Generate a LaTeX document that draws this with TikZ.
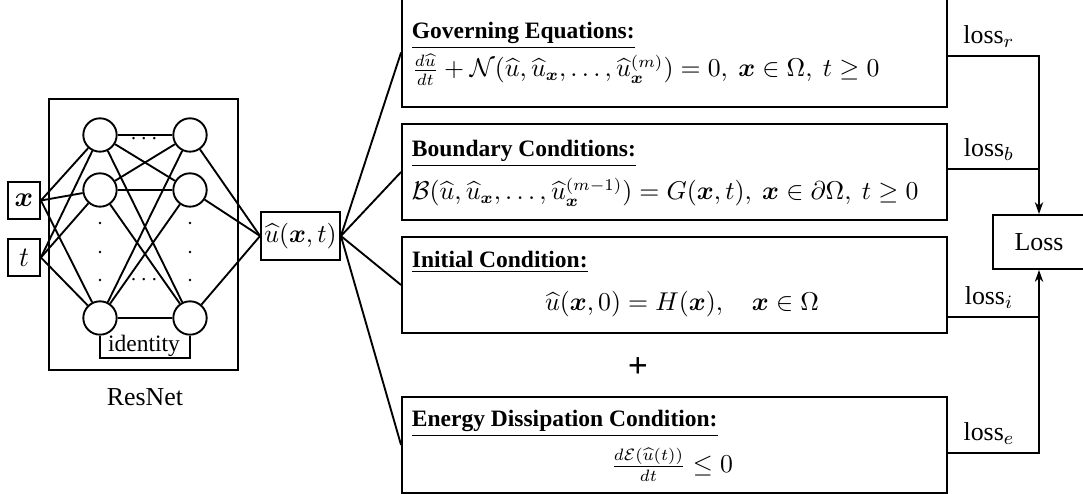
\documentclass[tikz,border=0pt]{standalone}
\usepackage{amsmath,amssymb}
\usepackage[no-math]{fontspec}
\setmainfont{Liberation Serif}
\usetikzlibrary{arrows.meta,positioning}

\begin{document}
\begin{tikzpicture}[x=0.4255pt, y=-0.4255pt, line width=0.8pt,
    >={Stealth[length=5pt,width=3.5pt,inset=1.5pt]},
    neuron/.style={circle, draw, minimum size=14.2pt, inner sep=0pt},
    inbox/.style={draw, minimum width=13.6pt, minimum height=15.4pt, inner sep=0pt, font=\fontsize{12}{14}\selectfont},
    condbox/.style={draw, minimum width=231.9pt, minimum height=40.85pt},
    boxtitle/.style={anchor=base west, inner sep=0pt, font=\bfseries},
    eqn/.style={inner sep=0pt, font=\fontsize{10.5}{12.6}\selectfont},
    lossname/.style={above, font=\fontsize{11}{13}\selectfont}]
    \useasboundingbox (0,0) rectangle (1083,494);

    % Inputs
    \node[inbox] (x) at (24,200.5) {$\boldsymbol{x}$};
    \node[inbox] (t) at (24,257.5) {$t$};

    % ResNet block
    \node[draw, minimum width=80.4pt, minimum height=115.3pt] (net) at (143.5,234.5) {};
    \node[font=\fontsize{11}{13}\selectfont] (netname) at (145,397) {ResNet};
    \foreach \i/\y in {1/135, 2/190, 3/318} {
        \node[neuron] (l\i) at (100,\y) {};
        \node[neuron] (r\i) at (190,\y) {};
    }
    \foreach \x in {100,190}
        \foreach \y in {223,252,280}
            \fill (\x,\y) circle (1.4);
    \node[inner sep=0pt] (hdots1) at (146,139.5) {$\cdots$};
    \node[inner sep=0pt] (hdots2) at (146,280) {$\cdots$};

    % Identity shortcut
    \draw (l3.south) -- ++(0,22) -| (r3.south);
    \node[anchor=base, inner sep=0pt] (idname) at (144,352) {identity};

    % Output
    \node[draw, minimum width=33.6pt, minimum height=20.4pt, inner sep=1pt, font=\fontsize{11}{13}\selectfont] (u) at (300.5,236) {$\widehat{u}(\boldsymbol{x},t)$};

    % Network connections
    \foreach \i in {1,2,3} {
        \draw (x.east) -- (l\i);
        \draw (t.east) -- (l\i);
        \draw (r\i) -- (u.west);
        \foreach \j in {1,2,3}
            \draw (l\i) -- (r\j);
    }

    % Conditions
    \node[condbox, minimum height=46.4pt] (gov) at (674.5,52.5) {};
    \node[condbox] (bc) at (674.5,172) {};
    \node[condbox] (ic) at (674.5,285) {};
    \node[condbox] (ed) at (674.5,445) {};

    \node[boxtitle] (govtitle) at (411,39) {\underline{Governing Equations:}};
    \node[eqn, anchor=base west] (goveq) at (411,77) {$\frac{d\widehat{u}}{dt}+\mathcal{N}(\widehat{u},\widehat{u}_{\boldsymbol{x}},\ldots,\widehat{u}_{\boldsymbol{x}}^{(m)})=0,\ \boldsymbol{x}\in\Omega,\ t\geq 0$};

    \node[boxtitle] (bctitle) at (411,157) {\underline{Boundary Conditions:}};
    \node[eqn, anchor=base west] (bceq) at (411,200) {$\mathcal{B}(\widehat{u},\widehat{u}_{\boldsymbol{x}},\ldots,\widehat{u}_{\boldsymbol{x}}^{(m-1)})=G(\boldsymbol{x},t),\ \boldsymbol{x}\in\partial\Omega,\ t\geq 0$};

    \node[boxtitle] (ictitle) at (411,268) {\underline{Initial Condition:}};
    \node[eqn, anchor=base] (iceq) at (682,311) {$\widehat{u}(\boldsymbol{x},0)=H(\boldsymbol{x}),\quad \boldsymbol{x}\in\Omega$};

    \node[font=\fontsize{15}{17}\selectfont\bfseries] (plus) at (638,368) {+};

    \node[boxtitle] (edtitle) at (411,427) {\underline{Energy Dissipation Condition:}};
    \node[eqn, anchor=base] (edeq) at (672,473) {$\frac{d\mathcal{E}(\widehat{u}(t))}{dt}\leq 0$};

    \foreach \c in {gov,bc,ic,ed}
        \draw (u.east) -- (\c.west);

    % Loss
    \node[draw, minimum width=39.1pt, minimum height=23pt, font=\fontsize{11}{13}\selectfont] (loss) at (1039,242) {Loss};
    \coordinate (jr) at (1039,56);
    \coordinate (jb) at (1039,169);
    \coordinate (ji) at (1039,317);
    \coordinate (je) at (1039,453);
    \draw[->] (gov.east |- jr) -- node[lossname, pos=0.45] (lr) {loss$_r$} (jr) -- (loss.north);
    \draw (bc.east |- jb) -- node[lossname, pos=0.45] (lb) {loss$_b$} (jb);
    \draw (ic.east |- ji) -- node[lossname, pos=0.45] (li) {loss$_i$} (ji);
    \draw[->] (ed.east |- je) -- node[lossname, pos=0.45] (le) {loss$_e$} (je) -- (loss.south);
\end{tikzpicture}
\end{document}
